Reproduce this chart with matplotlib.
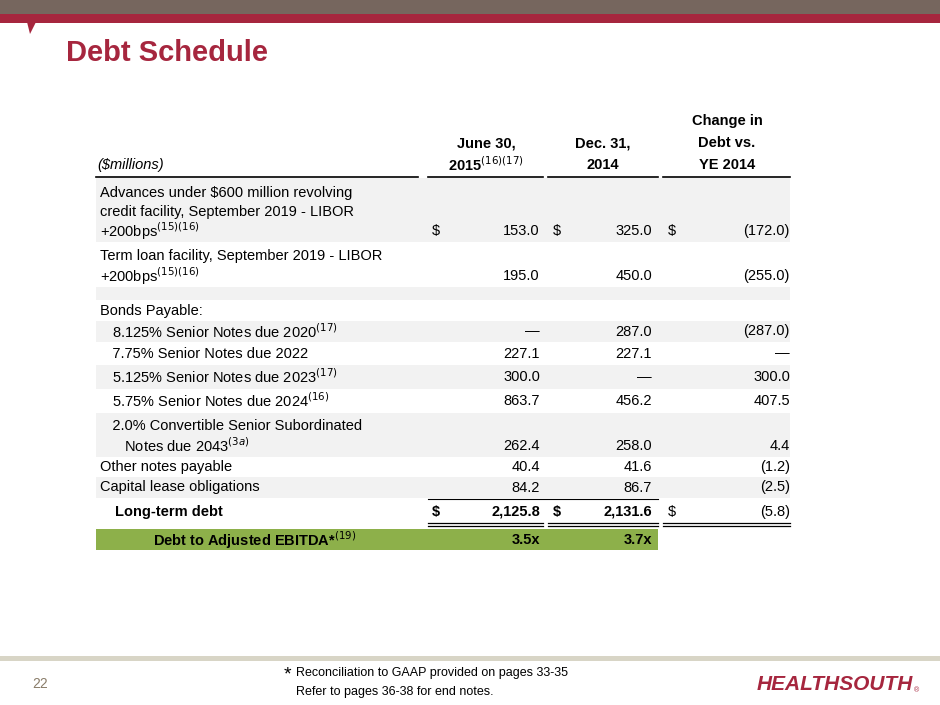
import matplotlib
matplotlib.use("Agg")
import matplotlib.pyplot as plt
from matplotlib.patches import Rectangle, Polygon

plt.rcParams['font.family'] = ['Liberation Sans', 'DejaVu Sans']

title = "Debt Schedule"
col_headers = [["June 30,", "2015$^{(16)(17)}$"], ["Dec. 31,", "2014"], ["Change in", "Debt vs.", "YE 2014"]]
row_labels = [
    ["Advances under $600 million revolving", "credit facility, September 2019 - LIBOR", "+200bps$^{(15)(16)}$"],
    ["Term loan facility, September 2019 - LIBOR", "+200bps$^{(15)(16)}$"],
    [""],
    ["Bonds Payable:"],
    ["   8.125% Senior Notes due 2020$^{(17)}$"],
    ["   7.75% Senior Notes due 2022"],
    ["   5.125% Senior Notes due 2023$^{(17)}$"],
    ["   5.75% Senior Notes due 2024$^{(16)}$"],
    ["   2.0% Convertible Senior Subordinated", "      Notes due 2043$^{(3a)}$"],
    ["Other notes payable"],
    ["Capital lease obligations"],
]
jun2015 = ["153.0", "195.0", "", "", "\u2014", "227.1", "300.0", "863.7", "262.4", "40.4", "84.2"]
dec2014 = ["325.0", "450.0", "", "", "287.0", "227.1", "\u2014", "456.2", "258.0", "41.6", "86.7"]
change = ["(172.0)", "(255.0)", "", "", "(287.0)", "\u2014", "300.0", "407.5", "4.4", "(1.2)", "(2.5)"]
dollar_rows = [0]
total = ["2,125.8", "2,131.6", "(5.8)"]
ratio_label = "Debt to Adjusted EBITDA*$^{(19)}$"
ratios = ["3.5x", "3.7x"]

fig = plt.figure(figsize=(9.4, 7.05), dpi=100)
ax = fig.add_axes([0, 0, 1, 1])
ax.set_xlim(0, 940); ax.set_ylim(705, 0); ax.axis('off')

red = '#a6263e'
ax.add_patch(Rectangle((0, 0), 940, 14, color='#76665e', lw=0))
ax.add_patch(Rectangle((0, 14), 940, 9, color=red, lw=0))
ax.add_patch(Polygon([[27, 22], [36, 22], [30, 34]], closed=True, color=red, lw=0))
ax.text(66, 53, title, color=red, fontsize=21, fontweight='bold', va='center', ha='left')

fs = 10.5
c_dollar = [432, 553, 668]
c_right = [540, 652, 790]
c_center = [486, 603, 727]
col_spans = [(428, 543), (548, 658), (663, 790)]
ax.text(97, 165, "($millions)", fontsize=fs, style='italic', va='center')
for i, h in enumerate(col_headers):
    ys = [165 - 22 * (len(h) - 1 - k) for k in range(len(h))]
    for y, t in zip(ys, h):
        ax.text(c_center[i], y, t, fontsize=fs, fontweight='bold', va='center', ha='center')
for x0, x1 in [(96, 418)] + col_spans:
    ax.plot([x0, x1], [177, 177], color='black', lw=1.2)

# row geometry: (top, bottom, gray)
bands = [(178, 242, True), (242, 287, False), (287, 300, True), (300, 321, False),
         (321, 342, True), (342, 365, False), (365, 389, True), (389, 413, False),
         (413, 457, True), (457, 477, False), (477, 498, True)]
for r, (t, b, g) in enumerate(bands):
    if g:
        ax.add_patch(Rectangle((96, t), 694, b - t, color='#f2f2f2', lw=0))
    lines = row_labels[r]
    n = len(lines)
    ybase = b - 11 if n > 1 else (t + b) / 2
    step = 19 if n == 3 else 20
    for k, ln in enumerate(lines):
        y = ybase - step * (n - 1 - k)
        ax.text(100 if r < 4 or r > 8 else 100, y, ln, fontsize=fs, va='center')
    vals = [jun2015[r], dec2014[r], change[r]]
    for i, v in enumerate(vals):
        if v:
            ax.text(c_right[i], ybase, v, fontsize=fs, va='center', ha='right')
            if r in dollar_rows:
                ax.text(c_dollar[i], ybase, "$", fontsize=fs, va='center', ha='left')

# total row
ax.plot([428, 658], [499, 499], color='black', lw=0.8)
ax.text(115, 512, "Long-term debt", fontsize=fs, fontweight='bold', va='center')
for i, v in enumerate(total):
    bold = 'bold' if i < 2 else 'normal'
    ax.text(c_right[i], 512, v, fontsize=fs, fontweight=bold, va='center', ha='right')
    ax.text(c_dollar[i], 512, "$", fontsize=fs, fontweight=bold, va='center', ha='left')
for x0, x1 in col_spans:
    ax.plot([x0, x1], [523, 523], color='black', lw=0.9)
    ax.plot([x0, x1], [526, 526], color='black', lw=0.9)

ax.add_patch(Rectangle((96, 529), 562, 21, color='#8db04a', lw=0))
ax.text(153, 540, ratio_label, fontsize=fs, fontweight='bold', va='center')
for i, v in enumerate(ratios):
    ax.text(c_right[i], 540, v, fontsize=fs, fontweight='bold', va='center', ha='right')

# footer
ax.add_patch(Rectangle((0, 656), 940, 5, color='#d8d5c6', lw=0))
ax.text(40, 684, "22", fontsize=10, color='#8a7d6a', va='center', ha='center')
ax.text(284, 675, "*", fontsize=14, va='center')
ax.text(296, 673, "Reconciliation to GAAP provided on pages 33-35", fontsize=9, va='center')
ax.text(296, 692, "Refer to pages 36-38 for end notes.", fontsize=9, va='center')
ax.text(913, 684, "HEALTHSOUTH", fontsize=15, fontweight='bold', style='italic',
        color=red, va='center', ha='right')
ax.text(914, 691, "\u00ae", fontsize=5, color=red, va='center', ha='left')

fig.savefig("out.png", dpi=100)
